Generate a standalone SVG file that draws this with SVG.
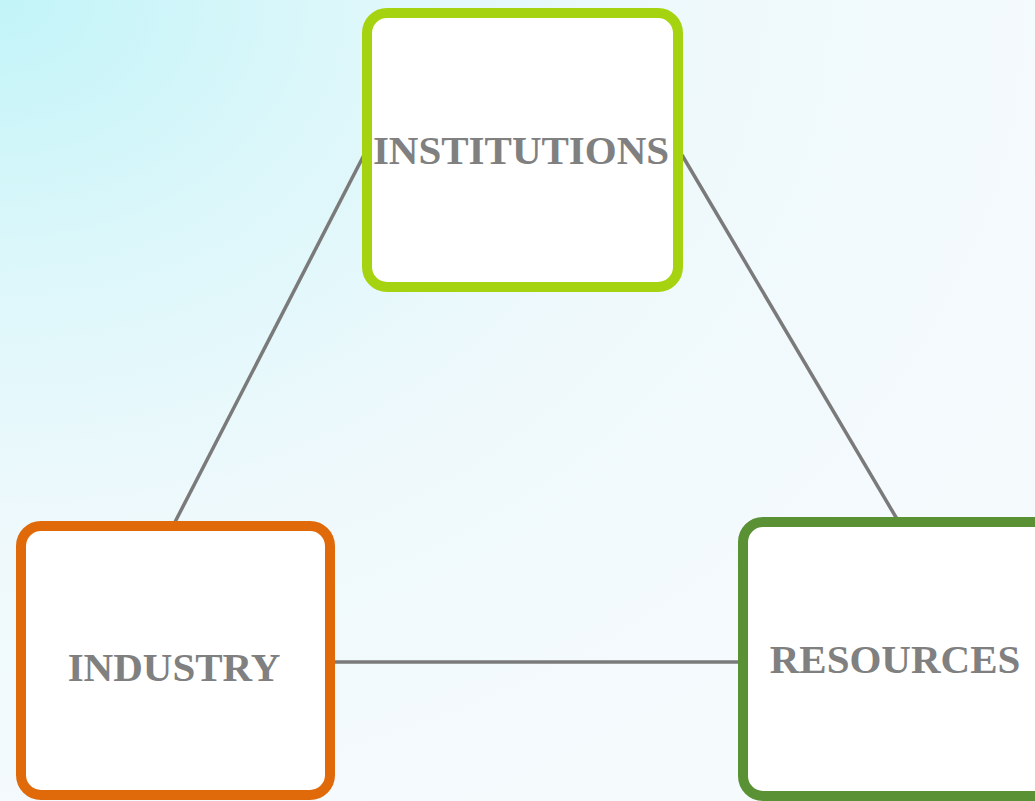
<svg xmlns="http://www.w3.org/2000/svg" width="1035" height="801" viewBox="0 0 1035 801">
<defs>
<radialGradient id="bg" cx="0" cy="0" r="1.1" gradientUnits="objectBoundingBox">
<stop offset="0" stop-color="#c2f4f8"/>
<stop offset="0.3" stop-color="#dcf7fa"/>
<stop offset="0.6" stop-color="#eef9fc"/>
<stop offset="1" stop-color="#f5fafd"/>
</radialGradient>
<style>
.box{fill:#ffffff;stroke-width:10}
.lbl{font-family:"Liberation Serif","Times New Roman",serif;font-weight:bold;font-size:41px;fill:#808080;text-anchor:middle}
.conn{stroke:#7a7a7a;stroke-width:3.5;fill:none}
</style>
</defs>
<rect x="0" y="0" width="1035" height="801" fill="url(#bg)"/>
<g id="connectors">
<line class="conn" x1="364" y1="155" x2="175" y2="522"/>
<line class="conn" x1="682" y1="155" x2="897" y2="519"/>
<line class="conn" x1="334" y1="662" x2="740" y2="662"/>
</g>
<g id="institutions">
<rect class="box" x="367" y="13" width="311" height="274" rx="20" stroke="#a6d30f"/>
<text class="lbl" x="521" y="164">INSTITUTIONS</text>
</g>
<g id="industry">
<rect class="box" x="21" y="526" width="309" height="269" rx="20" stroke="#e06a0a"/>
<text class="lbl" x="174" y="681">INDUSTRY</text>
</g>
<g id="resources">
<rect class="box" x="743" y="522" width="312" height="274" rx="20" stroke="#5a9134"/>
<text class="lbl" x="895" y="673">RESOURCES</text>
</g>
</svg>
